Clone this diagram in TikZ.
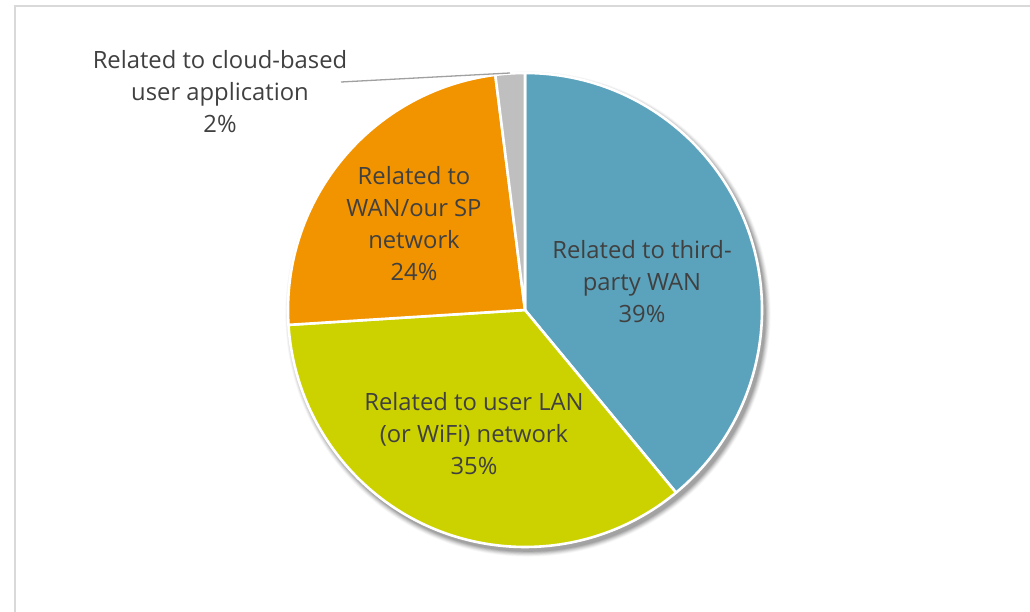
\documentclass[tikz,border=0pt]{standalone}
\usepackage{fontspec}
\setmainfont{Open Sans}
\usetikzlibrary{calc}
\definecolor{wanblue}{RGB}{91,163,188}
\definecolor{langreen}{RGB}{204,210,0}
\definecolor{sporange}{RGB}{242,148,0}
\definecolor{cloudgray}{RGB}{191,191,191}
\definecolor{labeltext}{RGB}{64,64,64}
\definecolor{framegray}{RGB}{217,217,217}
\definecolor{leadergray}{RGB}{160,160,160}
\tikzset{
  slice/.style={draw=white, line width=2.6pt, line join=round},
  pielabel/.style={font=\fontsize{23.8}{32}\selectfont, text=labeltext, align=center, inner sep=0pt},
}
\begin{document}
\begin{tikzpicture}[x=1pt,y=1pt]
  \useasboundingbox (0,-612) rectangle (1030,0);
  \fill[white] (0,-612) rectangle (1030,0);
  % chart frame (open to the right and bottom)
  \draw[framegray, line width=2pt] (15,-640) -- (15,-6) -- (1060,-6);

  \coordinate (c) at (525,-310);
  \def\r{237}
  % soft drop shadow
  \foreach \k/\o in {7/0.03,6/0.04,5/0.05,4/0.06,3/0.07,2/0.08,1/0.09}{
    \fill[black, opacity=\o] ($(c)+(3,-4)$) circle[radius=\r+\k*0.8];
  }
  % slices, clockwise from 12 o'clock
  \fill[wanblue, slice] (c) -- ++(90:\r) arc[start angle=90, end angle=-50.4, radius=\r] -- cycle;
  \fill[langreen, slice] (c) -- ++(-50.4:\r) arc[start angle=-50.4, end angle=-176.4, radius=\r] -- cycle;
  \fill[sporange, slice] (c) -- ++(-176.4:\r) arc[start angle=-176.4, end angle=-262.8, radius=\r] -- cycle;
  \fill[cloudgray, slice] (c) -- ++(97.2:\r) arc[start angle=97.2, end angle=90, radius=\r] -- cycle;

  % labels
  \node[pielabel] (lblcloud) at (220,-92) {Related to cloud-based\\user application\\2\%};
  \node[pielabel] (lblsp) at (414,-224) {Related to\\WAN/our SP\\network\\24\%};
  \node[pielabel] (lblthird) at (642,-282) {Related to third-\\party WAN\\39\%};
  \node[pielabel] (lbllan) at (474,-434) {Related to user LAN\\(or WiFi) network\\35\%};

  % leader line to the small slice
  \coordinate (leadstart) at (341,-82);
  \coordinate (leadend) at (510,-73);
  \draw[leadergray, line width=1.3pt] (leadstart) -- (leadend);
\end{tikzpicture}
\end{document}
